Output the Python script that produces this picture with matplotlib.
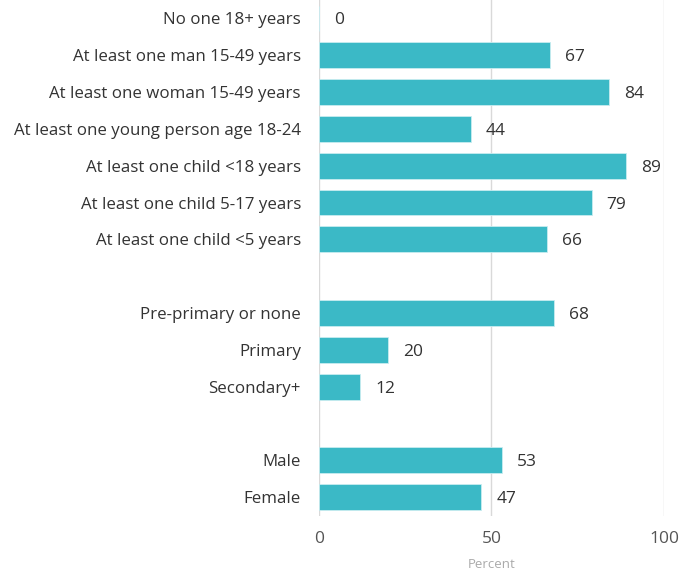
import matplotlib.pyplot as plt

# categories top to bottom, with slot positions (gaps between the groups)
categories = ['No one 18+ years', 'At least one man 15-49 years', 'At least one woman 15-49 years',
              'At least one young person age 18-24', 'At least one child <18 years',
              'At least one child 5-17 years', 'At least one child <5 years',
              'Pre-primary or none', 'Primary', 'Secondary+',
              'Male', 'Female']
values = [0, 67, 84, 44, 89, 79, 66, 68, 20, 12, 53, 47]
slots = [0, 1, 2, 3, 4, 5, 6, 8, 9, 10, 12, 13]
xticks = [0, 50, 100]

plt.rcParams['font.family'] = ['Open Sans', 'DejaVu Sans']

fig = plt.figure(figsize=(6.96, 5.73), dpi=100)
ax = fig.add_axes([0.4583, 0.1003, 0.4957, 0.8997])

ax.barh(slots, values, height=0.7, color='#3bb9c6', edgecolor='#c8ecf0', linewidth=0.6, zorder=3)

for y, v in zip(slots, values):
    ax.text(v + 4.4, y, str(v), va='center_baseline', ha='left', fontsize=12.5, color='#333333')

ax.set_xlim(0, 100)
ax.set_ylim(13.5, -0.5)
ax.set_yticks(slots)
ax.set_yticklabels(categories, fontsize=12.2, color='#333333', va='center_baseline')
ax.set_xticks(xticks)
ax.set_xticklabels([str(t) for t in xticks], fontsize=12.5, color='#555555')
ax.tick_params(axis='y', length=0, pad=13)
ax.tick_params(axis='x', length=0, pad=11)
ax.xaxis.grid(True, color='#d9d9d9', linewidth=1, zorder=0)
ax.set_axisbelow(True)
for s in ax.spines.values():
    s.set_visible(False)
ax.set_xlabel('Percent', fontsize=9.5, color='#aaaaaa', labelpad=8)

fig.savefig('out.png', dpi=100)
